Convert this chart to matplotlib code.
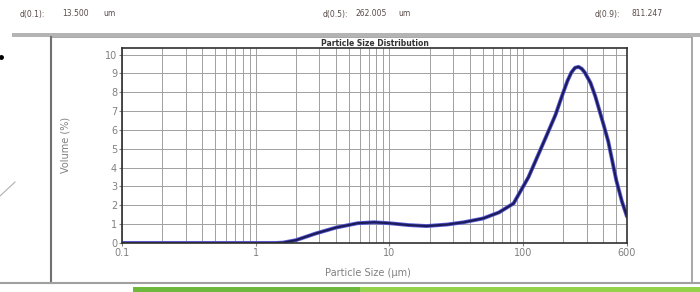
import matplotlib.pyplot as plt
from matplotlib.patches import Rectangle
from matplotlib.lines import Line2D
from matplotlib.ticker import FixedLocator, NullFormatter, LogLocator

# particle size distribution
size_um = [0.1, 0.5, 1.0, 1.4, 1.6, 2.0, 2.8, 4.0, 5.8, 7.7, 10.0, 14.0, 19.0,
           27.0, 36.0, 50.0, 66.0, 85.0, 110.0, 148.0, 175.0, 198.0, 215.0, 230.0,
           245.0, 260.0, 275.0, 290.0, 320.0, 347.0, 400.0, 434.0, 500.0, 550.0, 600.0]
volume_pct = [0.0, 0.0, 0.0, 0.0, 0.02, 0.15, 0.5, 0.82, 1.05, 1.1, 1.05, 0.95,
              0.9, 0.98, 1.1, 1.3, 1.62, 2.1, 3.5, 5.6, 6.8, 7.9, 8.6, 9.05,
              9.3, 9.35, 9.25, 9.05, 8.5, 7.8, 6.3, 5.4, 3.3, 2.2, 1.4]

x_ticks = [0.1, 1, 10, 100, 600]
x_ticklabels = ['0.1', '1', '10', '100', '600']
y_ticks = list(range(0, 11))

stats = [('d(0.1):', '13.500', 'um'), ('d(0.5):', '262.005', 'um'), ('d(0.9):', '811.247', '')]

fig = plt.figure(figsize=(7, 2.92), dpi=100)
W, H = 700, 292

def fx(px):
    return px / W

def fy(py):
    return 1 - py / H

# page decoration
fig.add_artist(Rectangle((fx(12), fy(37)), fx(688), 4 / H, color='#b4b4b4', lw=0))
fig.add_artist(Rectangle((fx(51), fy(283)), fx(641), 246 / H, facecolor='white',
                         edgecolor='#9a9a9a', lw=1.2, zorder=-5))
fig.add_artist(Line2D([fx(51), fx(51)], [fy(37), fy(283)], color='#707070', lw=1.5))
fig.add_artist(Line2D([fx(0), fx(700)], [fy(283), fy(283)], color='#a0a0a0', lw=1.5))
fig.add_artist(Rectangle((fx(133), 0), fx(230), 5 / H, color='#6db83d', lw=0))
fig.add_artist(Rectangle((fx(360), 0), fx(340), 5 / H, color='#95d24c', lw=0))
fig.add_artist(Line2D([fx(0), fx(15)], [fy(196), fy(182)], color='#b0b0b0', lw=0.8))
fig.add_artist(Line2D([fx(1)], [fy(57)], marker='o', ms=2.5, color='black'))

# summary numbers along the top
xs = [(20, 62, 103), (323, 355, 398), (595, 632, 0)]
for (lab, val, unit), (x1, x2, x3) in zip(stats, xs):
    fig.text(fx(x1), fy(14), lab, fontsize=5.5, color='#5a4a4a', va='center')
    fig.text(fx(x2), fy(14), val, fontsize=5.5, color='#5a4a4a', va='center')
    if unit:
        fig.text(fx(x3), fy(14), unit, fontsize=5.5, color='#5a4a4a', va='center')

ax = fig.add_axes([fx(122), fy(243), (627 - 122) / W, (243 - 48) / H])
ax.set_zorder(5)
ax.plot(size_um, volume_pct, color='#5a5ad8', lw=2.8, solid_capstyle='round',
        solid_joinstyle='round')
ax.plot(size_um, volume_pct, color='#1c1c5a', lw=1.6, solid_capstyle='round',
        solid_joinstyle='round')
ax.set_xscale('log')
ax.set_xlim(0.1, 600)
ax.set_ylim(0, 10.35)
ax.xaxis.set_major_locator(FixedLocator(x_ticks))
ax.set_xticklabels(x_ticklabels)
ax.xaxis.set_minor_locator(LogLocator(base=10, subs=range(2, 10)))
ax.xaxis.set_minor_formatter(NullFormatter())
ax.set_yticks(y_ticks)
ax.grid(True, which='both', axis='x', color='#a0a0a0', lw=0.7)
ax.grid(True, which='major', axis='y', color='#a0a0a0', lw=0.7)
for s in ax.spines.values():
    s.set_color('#303030')
    s.set_linewidth(1.2)
ax.tick_params(axis='both', labelsize=7, colors='#808080', length=2, pad=1.5)
ax.tick_params(axis='x', which='minor', length=0)
ax.set_title('Particle Size Distribution', fontsize=5.5, fontweight='bold',
             color='#333333', pad=-1)

fig.text(fx(66), fy(145), 'Volume (%)', rotation=90, fontsize=7, color='#808080',
         ha='center', va='center')
fig.text(fx(368), fy(273), 'Particle Size (µm)', fontsize=7, color='#808080',
         ha='center', va='center')

fig.savefig('out.png', dpi=100)
